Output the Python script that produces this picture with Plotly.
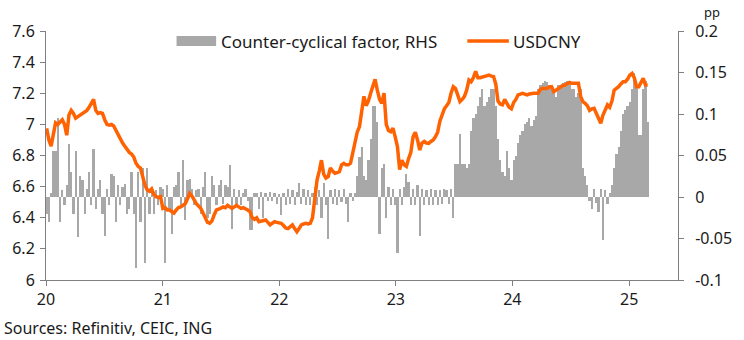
import pandas as pd
import plotly.graph_objects as go

# Weekly observations (Fridays), Jan 2020 - Feb 2025
dates = pd.date_range("2020-01-03", periods=270, freq="7D")

ccf = [
    -0.02, -0.03, 0.005, 0.055, 0.055, 0.095, -0.03, 0.008, -0.01, 0.015,
    0.064, 0.03, -0.02, 0.055, -0.048, 0.025, 0.02, -0.02, 0.01, 0.03,
    -0.01, 0.058, -0.015, 0.01, 0.02, -0.02, -0.047, 0.01, -0.01, 0.028,
    0.025, -0.03, 0.015, -0.01, 0.012, 0.016, -0.02, -0.015, 0.03, -0.02,
    -0.085, 0.03, -0.03, 0.035, -0.08, 0.035, -0.02,
    0.01, -0.02, 0.008, -0.01, 0.012, 0.01, -0.08, 0.015, -0.015, -0.045,
    0.012, 0.015, 0.03, -0.01, 0.045, -0.028, 0.02, 0.022, 0.01, -0.01,
    0.008, 0.01, -0.02, 0.012, 0.03, -0.025, -0.02, 0.025, 0.015, -0.01,
    0.015, 0.02, -0.008, 0.015, 0.012, 0.038, -0.038, 0.01, -0.008, 0.008,
    -0.01, 0.005, 0.01, -0.005, -0.04, -0.04, 0.005,
    0.005, -0.015, 0.006, -0.025, 0.005, -0.005, 0.006, -0.005, 0.005, -0.008,
    0.004, -0.022, 0.005, -0.01, 0.01, -0.008, 0.008, -0.01, 0.006, 0.017,
    -0.008, 0.01, -0.01, 0.008, -0.01, 0.005, 0.012, -0.01, 0.008, -0.025,
    0.017, -0.01, -0.05, 0.008, -0.008, 0.01, -0.01, 0.008, -0.006, 0.01,
    -0.008, -0.03, 0.005, -0.005, 0.005, 0.025, 0.048,
    0.06, 0.025, 0.02, 0.045, 0.07, 0.11, 0.11, 0.09, -0.045, 0.035,
    0.04, -0.025, 0.012, -0.01, 0.01, -0.01, -0.067, 0.01, -0.01, 0.012,
    0.028, 0.018, -0.01, 0.01, -0.01, 0.015, -0.047, 0.01, -0.01, 0.008,
    -0.01, 0.01, -0.01, 0.008, -0.01, 0.008, -0.008, 0.01, 0.008, -0.008,
    0.01, -0.025, 0.04, 0.04, 0.076, 0.04, 0.04,
    0.035, 0.04, 0.08, 0.095, 0.1, 0.11, 0.12, 0.13, 0.11, 0.115,
    0.12, 0.13, 0.13, 0.11, 0.07, 0.045, 0.03, 0.025, 0.055, 0.035,
    0.02, 0.045, 0.05, 0.065, 0.075, 0.08, 0.088, 0.09, 0.095, 0.085,
    0.093, 0.098, 0.13, 0.135, 0.137, 0.14, 0.138, 0.135, 0.13, 0.125,
    0.12, 0.135, 0.135, 0.137, 0.138, 0.14, 0.14,
    0.13, 0.13, 0.12, 0.125, 0.13, 0.035, 0.025, 0.015, -0.005, -0.015,
    0.01, -0.007, -0.018, 0.01, -0.052, 0.008, -0.008, 0.005, 0.015, 0.035,
    0.052, 0.06, 0.08, 0.1, 0.105, 0.11, 0.115, 0.13, 0.15, 0.135,
    0.075, 0.075, 0.13, 0.14, 0.09,
]

usdcny = [
    6.975, 6.90, 6.86, 6.95, 7.01, 7.00, 7.015, 7.03, 7.00, 6.93,
    7.06, 7.09, 7.07, 7.04, 7.05, 7.06, 7.07, 7.08, 7.09, 7.11,
    7.14, 7.16, 7.09, 7.07, 7.075, 7.07, 7.03, 7.00, 6.995, 7.00,
    6.99, 6.96, 6.93, 6.91, 6.88, 6.86, 6.84, 6.82, 6.81, 6.79,
    6.75, 6.73, 6.72, 6.66, 6.61, 6.58, 6.57, 6.585, 6.55, 6.535,
    6.53, 6.535, 6.46, 6.465, 6.45, 6.45, 6.44, 6.43, 6.45, 6.465,
    6.47, 6.48, 6.49, 6.52, 6.557, 6.54, 6.51, 6.49, 6.475, 6.46,
    6.43, 6.40, 6.37, 6.365, 6.38, 6.42, 6.45, 6.455, 6.46, 6.47,
    6.465, 6.48, 6.47, 6.46, 6.47, 6.48, 6.47, 6.46, 6.465, 6.46,
    6.45, 6.44, 6.40, 6.39, 6.40, 6.375, 6.38, 6.385, 6.386, 6.37,
    6.354, 6.365, 6.375, 6.37, 6.365, 6.364, 6.35, 6.335, 6.33, 6.345,
    6.354, 6.33, 6.31, 6.33, 6.354, 6.36, 6.364, 6.36, 6.364, 6.40,
    6.53, 6.64, 6.70, 6.77, 6.68, 6.655, 6.664, 6.72, 6.70, 6.686,
    6.69, 6.696, 6.74, 6.75, 6.74, 6.74, 6.75, 6.82, 6.90, 6.95,
    6.985, 7.10, 7.18, 7.12, 7.15, 7.20, 7.24, 7.29, 7.22, 7.16,
    7.135, 7.20, 7.00, 6.96, 6.953, 6.975, 6.92, 6.857, 6.71, 6.77,
    6.74, 6.73, 6.78, 6.82, 6.92, 6.95, 6.90, 6.835, 6.88, 6.89,
    6.88, 6.878, 6.89, 6.90, 6.92, 6.95, 7.02, 7.06, 7.10, 7.12,
    7.14, 7.20, 7.242, 7.23, 7.19, 7.146, 7.16, 7.18, 7.22, 7.285,
    7.274, 7.30, 7.34, 7.30, 7.30, 7.305, 7.31, 7.315, 7.317, 7.31,
    7.307, 7.26, 7.15, 7.13, 7.125, 7.16, 7.13, 7.11, 7.10, 7.14,
    7.16, 7.19, 7.195, 7.20, 7.195, 7.19, 7.195, 7.20, 7.20, 7.20,
    7.20, 7.225, 7.232, 7.23, 7.232, 7.24, 7.242, 7.21, 7.22, 7.235,
    7.242, 7.25, 7.253, 7.26, 7.27, 7.264, 7.264, 7.26, 7.264, 7.18,
    7.146, 7.135, 7.12, 7.09, 7.10, 7.103, 7.07, 7.03, 7.007, 7.06,
    7.09, 7.125, 7.11, 7.15, 7.22, 7.23, 7.242, 7.26, 7.274, 7.274,
    7.29, 7.317, 7.328, 7.30, 7.242, 7.242, 7.27, 7.296, 7.253, 7.253,
]

year_ticks = ["2020-01-01", "2021-01-01", "2022-01-01", "2023-01-01", "2024-01-01", "2025-01-01"]
year_labels = ["20", "21", "22", "23", "24", "25"]
left_ticks = [6, 6.2, 6.4, 6.6, 6.8, 7, 7.2, 7.4, 7.6]
left_labels = ["6", "6.2", "6.4", "6.6", "6.8", "7", "7.2", "7.4", "7.6"]
right_ticks = [-0.1, -0.05, 0, 0.05, 0.1, 0.15, 0.2]
right_labels = ["-0.1", "-0.05", "0", "0.05", "0.1", "0.15", "0.2"]

ORANGE = "#FF6200"
GREY = "#A8A8A8"
AXIS = "#808080"
TXT = "#1a1a1a"
FONT = "Noto Sans"

fig = go.Figure()
fig.add_trace(go.Bar(
    x=dates, y=ccf, yaxis="y", name="Counter-cyclical factor, RHS",
    marker=dict(color=GREY, line=dict(width=0)),
    width=7 * 86400000, showlegend=False,
))
fig.add_trace(go.Scatter(
    x=dates, y=usdcny, yaxis="y2", name="USDCNY", mode="lines",
    line=dict(color=ORANGE, width=3.5), showlegend=False,
))

axis_common = dict(showgrid=False, zeroline=False, showline=True, linecolor=AXIS,
                   linewidth=1, ticks="outside", tickcolor=AXIS, ticklen=5,
                   tickfont=dict(family=FONT, size=16, color=TXT))

fig.update_layout(
    width=744, height=340,
    margin=dict(l=44, r=61, t=31, b=60),
    paper_bgcolor="white", plot_bgcolor="white",
    bargap=0,
    xaxis=dict(range=["2020-01-01", "2025-06-03"], tickvals=year_ticks,
               ticktext=year_labels, **axis_common),
    yaxis=dict(side="right", range=[-0.1, 0.2], tickvals=right_ticks,
               ticktext=right_labels, ticklabelstandoff=8, **axis_common),
    yaxis2=dict(side="left", overlaying="y", range=[6, 7.6], tickvals=left_ticks,
                ticktext=left_labels, ticklabelstandoff=2, **axis_common),
    showlegend=False,
)

# Legend drawn manually to match the reference's wide swatches
W, H = 639.0, 249.0
def px(xp):
    return (xp - 44) / W
def py(yp):
    return (280 - yp) / H

fig.add_shape(type="rect", xref="paper", yref="paper",
              x0=px(176), x1=px(216), y0=py(46), y1=py(36),
              fillcolor=GREY, line=dict(width=0))
fig.add_shape(type="line", xref="paper", yref="paper",
              x0=px(470), x1=px(512), y0=py(41), y1=py(41),
              line=dict(color=ORANGE, width=3.5))
fig.add_annotation(xref="paper", yref="paper", x=px(219), y=py(41),
                   text="Counter-cyclical factor, RHS", showarrow=False,
                   xanchor="left", yanchor="middle",
                   font=dict(family=FONT, size=17, color=TXT))
fig.add_annotation(xref="paper", yref="paper", x=px(514), y=py(41),
                   text="USDCNY", showarrow=False,
                   xanchor="left", yanchor="middle",
                   font=dict(family=FONT, size=17, color=TXT))
fig.add_annotation(xref="paper", yref="paper", x=px(717), y=py(12),
                   text="pp", showarrow=False,
                   xanchor="center", yanchor="middle",
                   font=dict(family=FONT, size=13, color=TXT))
fig.add_annotation(xref="paper", yref="paper", x=px(0), y=py(328),
                   text="Sources: Refinitiv, CEIC, ING", showarrow=False,
                   xanchor="left", yanchor="middle",
                   font=dict(family=FONT, size=16, color=TXT))

fig.write_html("out.html")
